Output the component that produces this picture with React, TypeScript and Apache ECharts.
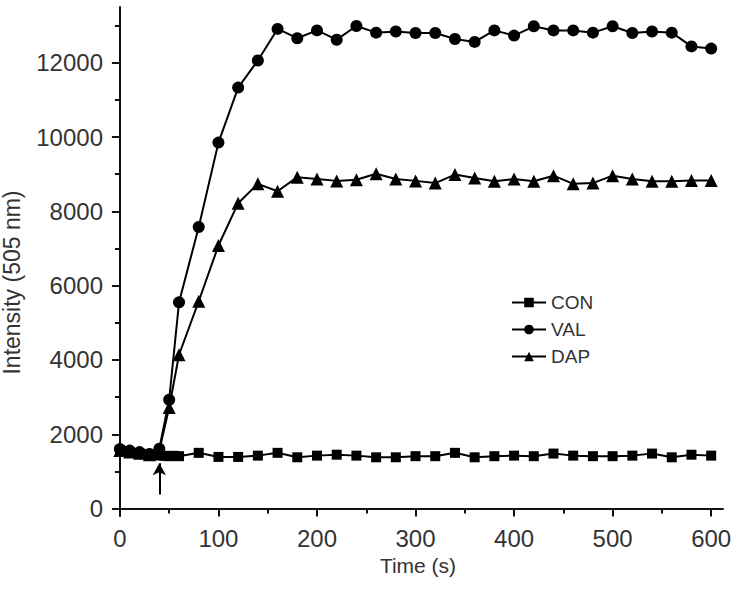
import React, { useEffect, useRef } from "react";
import * as echarts from "echarts";

// ---- data ----
const conTime = [0, 5, 10, 15, 20, 25, 30, 35, 40, 45, 50, 55, 60, 80, 100, 120, 140, 160, 180, 200, 220, 240, 260, 280, 300, 320, 340, 360, 380, 400, 420, 440, 460, 480, 500, 520, 540, 560, 580, 600];
const conValues = [1580, 1550, 1520, 1500, 1480, 1460, 1440, 1440, 1430, 1420, 1410, 1420, 1410, 1500, 1390, 1390, 1425, 1500, 1380, 1425, 1450, 1425, 1380, 1380, 1410, 1410, 1500, 1380, 1410, 1425, 1410, 1480, 1425, 1410, 1410, 1425, 1480, 1380, 1450, 1425];

const valTime = [0, 10, 20, 30, 40, 50, 60, 80, 100, 120, 140, 160, 180, 200, 220, 240, 260, 280, 300, 320, 340, 360, 380, 400, 420, 440, 460, 480, 500, 520, 540, 560, 580, 600];
const valValues = [1600, 1560, 1520, 1470, 1610, 2930, 5550, 7580, 9850, 11330, 12060, 12910, 12660, 12870, 12620, 12990, 12810, 12840, 12800, 12800, 12640, 12560, 12870, 12730, 12980, 12870, 12870, 12810, 12980, 12800, 12840, 12810, 12440, 12380];

const dapTime = [0, 10, 20, 30, 40, 50, 60, 80, 100, 120, 140, 160, 180, 200, 220, 240, 260, 280, 300, 320, 340, 360, 380, 400, 420, 440, 460, 480, 500, 520, 540, 560, 580, 600];
const dapValues = [1560, 1520, 1490, 1450, 1560, 2720, 4140, 5580, 7080, 8220, 8740, 8540, 8920, 8870, 8820, 8850, 9010, 8870, 8820, 8760, 8990, 8900, 8810, 8870, 8810, 8960, 8740, 8760, 8960, 8870, 8810, 8810, 8830, 8830];

const xTickLabels = [0, 100, 200, 300, 400, 500, 600];
const xMinorTicks = [50, 150, 250, 350, 450, 550];
const yTickLabels = [0, 2000, 4000, 6000, 8000, 10000, 12000];
const yMinorTicks = [1000, 3000, 5000, 7000, 9000, 11000, 13000];

// arrow marking the addition time (time, intensity from -> to)
const arrowTime = 40;
const arrowFrom = 380;
const arrowTo = 1220;

const FONT = "'Liberation Sans', Arial, sans-serif";
const TEXT = "#333";

export default function App() {
  const ref = useRef<HTMLDivElement>(null);
  useEffect(() => {
    if (!ref.current) return;
    const chart = echarts.init(ref.current, null, { renderer: "svg" });
    const zip = (t: number[], v: number[]) => t.map((x, i) => [x, v[i]]);
    const axisLineStyle = { color: "#111", width: 2 };
    const plain = (v: number) => String(v);
    chart.setOption({
      animation: false,
      backgroundColor: "#fff",
      textStyle: { fontFamily: FONT },
      grid: { left: 113, right: 17, top: 7, bottom: 74, containLabel: false, outerBoundsMode: "none" },
      legend: {
        orient: "vertical",
        left: 506,
        top: 288,
        itemWidth: 34,
        itemHeight: 12,
        itemGap: 8,
        textStyle: { fontSize: 19, color: TEXT, fontFamily: FONT },
        data: ["CON", "VAL", "DAP"],
      },
      xAxis: [
        {
          type: "value",
          min: -7,
          max: 612,
          name: "Time (s)",
          nameLocation: "middle",
          nameGap: 38,
          nameTextStyle: { fontSize: 21, color: TEXT, fontFamily: FONT },
          axisLine: { show: true, onZero: true, lineStyle: axisLineStyle },
          axisTick: { show: true, inside: false, length: 8, lineStyle: { width: 2, color: "#111" }, customValues: xTickLabels },
          axisLabel: { fontSize: 24, color: TEXT, margin: 10, fontFamily: FONT, customValues: xTickLabels, formatter: plain },
          splitLine: { show: false },
        },
        {
          type: "value",
          min: -7,
          max: 612,
          position: "bottom",
          axisLine: { show: false, onZero: true },
          axisTick: { show: true, inside: false, length: 5, lineStyle: { width: 2, color: "#111" }, customValues: xMinorTicks },
          axisLabel: { show: false },
          splitLine: { show: false },
        },
      ],
      yAxis: [
        {
          type: "value",
          min: -200,
          max: 13500,
          name: "Intensity (505 nm)",
          nameLocation: "middle",
          nameGap: 90,
          nameTextStyle: { fontSize: 23, color: TEXT, fontFamily: FONT, padding: [0, 42, 0, 0] },
          axisLine: { show: true, onZero: true, lineStyle: axisLineStyle },
          axisTick: { show: true, inside: false, length: 8, lineStyle: { width: 2, color: "#111" }, customValues: yTickLabels },
          axisLabel: { fontSize: 24, color: TEXT, margin: 10, fontFamily: FONT, customValues: yTickLabels, formatter: plain },
          splitLine: { show: false },
        },
        {
          type: "value",
          min: -200,
          max: 13500,
          position: "left",
          axisLine: { show: false, onZero: true },
          axisTick: { show: true, inside: false, length: 5, lineStyle: { width: 2, color: "#111" }, customValues: yMinorTicks },
          axisLabel: { show: false },
          splitLine: { show: false },
        },
      ],
      series: [
        {
          name: "CON",
          type: "line",
          data: zip(conTime, conValues),
          symbol: "rect",
          symbolSize: 10,
          itemStyle: { color: "#000" },
          lineStyle: { color: "#000", width: 2 },
          markLine: {
            silent: true,
            symbol: ["none", "arrow"],
            symbolSize: [10, 12],
            label: { show: false },
            lineStyle: { color: "#000", width: 2, type: "solid" },
            data: [[{ coord: [arrowTime, arrowFrom] }, { coord: [arrowTime, arrowTo] }]],
          },
        },
        {
          name: "VAL",
          type: "line",
          data: zip(valTime, valValues),
          symbol: "circle",
          symbolSize: 12,
          itemStyle: { color: "#000" },
          lineStyle: { color: "#000", width: 2 },
        },
        {
          name: "DAP",
          type: "line",
          data: zip(dapTime, dapValues),
          symbol: "triangle",
          symbolSize: 13,
          itemStyle: { color: "#000" },
          lineStyle: { color: "#000", width: 2 },
        },
      ],
    });
    return () => chart.dispose();
  }, []);
  return <div ref={ref} style={{ position: "fixed", left: 0, top: 0, width: 740, height: 590 }} />;
}
